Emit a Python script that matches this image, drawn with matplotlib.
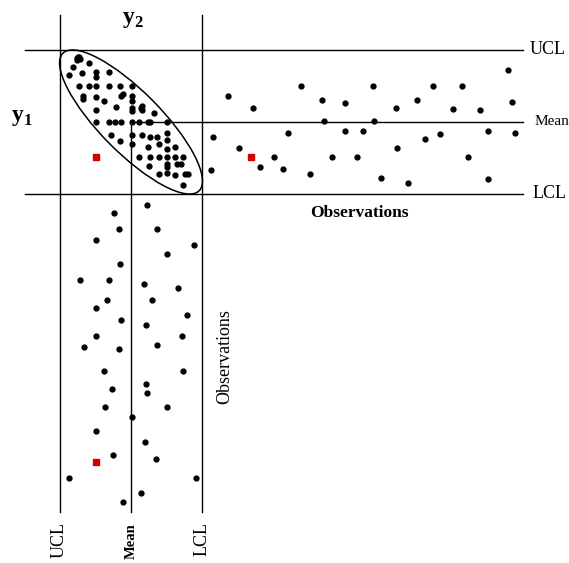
import numpy as np
import matplotlib
matplotlib.use('Agg')
import matplotlib.pyplot as plt
from matplotlib.patches import Ellipse

plt.rcParams['font.family'] = ['Liberation Serif', 'DejaVu Serif']
plt.rcParams['mathtext.fontset'] = 'custom'
plt.rcParams['mathtext.rm'] = 'Liberation Serif'
plt.rcParams['mathtext.bf'] = 'Liberation Serif:bold'

# control limits (standardised units)
UCL, MEAN, LCL = 3.0, 0.0, -3.0

# joint scatter of (y2, y1)
sc_y2 = [2.28, 2.21, 2.17, 2.25, 2.14, 1.78, 2.42, 2.62, 2.04, 1.47, 1.47, 0.91,
         2.20, 1.78, 1.47, 0.94, 0.45, -0.03, 2.00, 2.00, 1.47, 1.13, 0.41, 0.35,
         -0.03, -0.03, 0.63, -0.46, -0.41, -0.46, -0.03, -0.03, 1.48, -0.97,
         1.48, 0.94, 0.67, 0.41, -0.03, -0.35, -0.73, -0.80, -1.53,
         0.83, 0.45, -0.03, -0.03, -0.46, -0.80, -1.08, -1.53, -1.53, -0.73,
         -1.19, -1.53, -1.83,
         -0.35, -0.80, -1.16, -1.53, -1.83, -2.17,
         -0.77, -1.53, -1.53, -1.92, -2.09, -1.16, -1.53, -1.86, -2.25, -2.39, -2.17]
sc_y1 = [2.65, 2.69, 2.72, 2.58, 2.63, 2.44, 2.31, 1.97, 2.06, 2.07, 1.86, 2.07,
         1.51, 1.51, 1.51, 1.51, 1.51, 1.51, 1.08, 0.97, 1.06, 0.88, 1.08, 1.17,
         1.08, 0.88, 0.64, 0.67, 0.57, 0.50, 0.57, 0.47, 0.49, 0.39,
         0.01, 0.01, 0.01, 0.01, 0.01, 0.01, 0.01, 0.01, 0.01,
         -0.53, -0.78, -0.53, -0.92, -0.53, -0.61, -0.61, -0.44, -0.75, -1.03,
         -0.92, -1.14, -1.03,
         -1.47, -1.47, -1.47, -1.47, -1.47, -1.47,
         -1.82, -1.75, -1.89, -1.75, -1.76, -2.15, -2.11, -2.19, -2.15, -2.15, -2.61]

# y1 plotted against observation number
obs_h = [1.04, 0.75, 2.84, 4.21, 6.04, 6.88, 8.66, 9.79, 10.38, 11.96, 13.13,
         14.66, 14.91, 15.91, 17.54, 17.54, 18.96, 19.75, 21.0, 21.13, 22.04,
         23.84, 24.04, 25.41, 26.5, 27.54, 28.46, 29.38, 30.96, 32.13, 32.88,
         34.38, 35.38, 35.41, 37.84, 38.41, 38.75]
y1_h = [-0.61, -2.0, 1.10, -1.07, 0.60, -1.89, -1.46, -1.96, -0.45, 1.5, -2.15,
        0.90, 0.03, -1.46, 0.79, -0.375, -1.46, -0.375, 1.5, 0.03, -2.33,
        0.60, -1.10, -2.53, 0.90, -0.72, 1.5, -0.49, 0.53, 1.5, -1.46,
        0.49, -0.375, -2.375, 2.18, 0.82, -0.45]

# y2 plotted against observation number
obs_v = [1.66, 0.66, 3.59, 3.59, 5.0, 5.66, 6.79, 8.04, 9.96, 10.04, 10.54,
         10.96, 12.5, 12.5, 13.46, 15.04, 14.38, 15.63, 16.96, 16.96, 18.41,
         18.59, 18.09, 21.41, 21.41, 23.66, 22.96, 24.13, 25.88, 25.88, 27.09,
         28.88, 30.29, 31.91, 32.38, 34.75, 34.75, 36.66, 37.79]
y2_v = [0.73, -0.66, 0.49, -1.08, 1.47, -2.66, -1.53, 0.45, 2.16, 0.91, -0.55,
        -1.99, 1.01, -0.88, 1.47, 0.41, -2.37, -0.62, 1.47, -2.14, 1.96,
        0.49, -1.11, 1.13, -2.18, 0.80, -0.63, -0.66, 1.09, -1.53, -0.03,
        1.47, -0.59, 0.76, -1.04, 2.61, -2.72, -0.42, 0.34]

# the out-of-control observation
out_y2, out_y1 = 1.47, -1.47
out_obs_h, out_obs_v = 5.71, 32.79

fig = plt.figure(figsize=(5.69, 5.63), dpi=100)
ax = fig.add_axes([0, 0, 1, 1])
ax.set_xlim(5.504, -18.40)
ax.set_ylim(-18.375, 5.083)
ax.axis('off')

ax_h = fig.add_axes([0, 0, 1, 1], sharey=ax)
ax_h.set_xlim(-25.625, 45.5)
ax_h.patch.set_alpha(0)
ax_h.axis('off')

ax_v = fig.add_axes([0, 0, 1, 1], sharex=ax)
ax_v.set_ylim(45.375, -25.0)
ax_v.patch.set_alpha(0)
ax_v.axis('off')

# limit lines
lk = dict(color='black', lw=1.0)
ax.axhline(UCL, xmin=25/569, xmax=523/569, **lk)
ax.axhline(LCL, xmin=25/569, xmax=523/569, **lk)
ax.axhline(MEAN, xmin=131/569, xmax=523/569, **lk)
ax.axvline(UCL, ymin=1-512/563, ymax=1-15/563, **lk)
ax.axvline(LCL, ymin=1-512/563, ymax=1-15/563, **lk)
ax.axvline(MEAN, ymin=1-512/563, ymax=1-122/563, **lk)

# control ellipse
ax.add_patch(Ellipse((MEAN, MEAN), width=8.1, height=2.55, angle=45,
                     fill=False, color='black', lw=1.1))

dot = dict(marker='o', ls='none', color='black', markersize=3.5)
sq = dict(marker='s', ls='none', color='#d40000', markersize=5)
ax.plot(sc_y2, sc_y1, **dot)
ax.plot([out_y2], [out_y1], **sq)
ax_h.plot(obs_h, y1_h, **dot)
ax_h.plot([out_obs_h], [out_y1], **sq)
ax_v.plot(y2_v, obs_v, **dot)
ax_v.plot([out_y2], [out_obs_v], **sq)

# labels
ty = ax.get_yaxis_transform()
ax.text(0.930, UCL, 'UCL', transform=ty, fontsize=13, va='center', ha='left')
ax.text(0.940, MEAN, 'Mean', transform=ty, fontsize=11, va='center', ha='left')
ax.text(0.936, LCL, 'LCL', transform=ty, fontsize=13, va='center', ha='left')

tx = ax.get_xaxis_transform()
ax.text(UCL, 1-540/563, 'UCL', transform=tx, fontsize=13, rotation=90,
        va='center', ha='center')
ax.text(MEAN, 1-541/563, 'Mean', transform=tx, fontsize=10.5, rotation=90,
        va='center', ha='center', fontweight='bold')
ax.text(LCL, 1-539/563, 'LCL', transform=tx, fontsize=13, rotation=90,
        va='center', ha='center')

fig.text(359/569, 1-213/563, 'Observations', fontsize=12.5, fontweight='bold',
         ha='center', va='center')
fig.text(225/569, 1-357/563, 'Observations', fontsize=13, rotation=90,
         ha='center', va='center')

fig.text(133/569, 1-20/563, r'$\mathbf{y}_\mathbf{2}$', fontsize=17,
         ha='center', va='center')
fig.text(22/569, 1-118/563, r'$\mathbf{y}_\mathbf{1}$', fontsize=17,
         ha='center', va='center')

plt.savefig('out.png', dpi=100)
